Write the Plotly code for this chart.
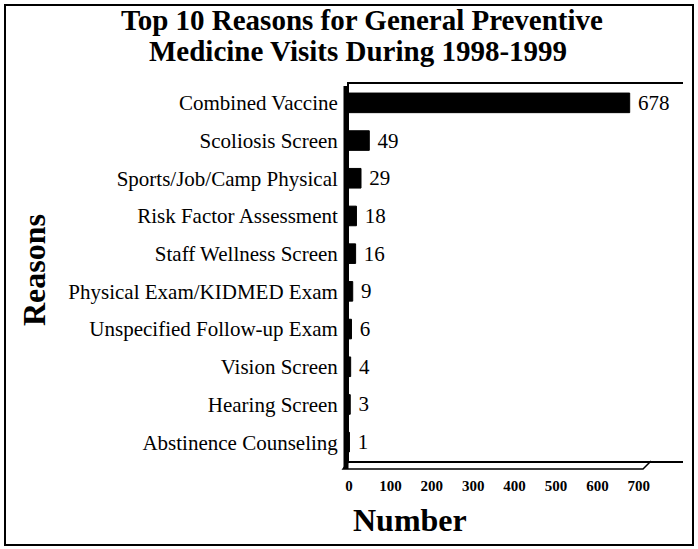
import plotly.graph_objects as go

reasons = ["Combined Vaccine", "Scoliosis Screen", "Sports/Job/Camp Physical",
           "Risk Factor Assessment", "Staff Wellness Screen", "Physical Exam/KIDMED Exam",
           "Unspecified Follow-up Exam", "Vision Screen", "Hearing Screen",
           "Abstinence Counseling"]
counts = [678, 49, 29, 18, 16, 9, 6, 4, 3, 1]
x_ticks = [0, 100, 200, 300, 400, 500, 600, 700]
title_lines = ["Top 10 Reasons for General Preventive", "Medicine Visits During 1998-1999"]

SERIF = "Liberation Serif, Times New Roman, serif"

fig = go.Figure(go.Bar(
    x=counts, y=reasons, orientation="h",
    marker=dict(color="black", line=dict(color="black", width=1)),
    width=0.52,
    text=["\u00a0" + str(c) for c in counts], textposition="outside",
    constraintext="none",
    textfont=dict(family=SERIF, size=21, color="black"),
    cliponaxis=False,
))

W, H = 698, 549
L, R, T, B = 349, 15, 84, 88
pw, ph = W - L - R, H - T - B


def px(x):
    return (x - L) / pw


def py(y):
    return (H - B - y) / ph


shapes = [
    dict(type="rect", xref="paper", yref="paper",
         x0=px(5), x1=px(693), y0=py(545), y1=py(5),
         line=dict(color="black", width=2)),
    # 3D floor under the plot
    dict(type="path", xref="paper", yref="paper",
         path=(f"M {px(349)},{py(461)} L {px(343)},{py(469)} "
               f"L {px(643)},{py(469)} L {px(651)},{py(461)}"),
         line=dict(color="black", width=1.5)),
    # 3D left wall
    dict(type="line", xref="paper", yref="paper",
         x0=px(346), x1=px(346), y0=py(469), y1=py(86),
         line=dict(color="black", width=5)),
]

annotations = [
    dict(text=f"<b>{title_lines[0]}</b>", xref="paper", yref="paper",
         x=px(362), y=py(20), xanchor="center", yanchor="middle", showarrow=False,
         font=dict(family=SERIF, size=29, color="black")),
    dict(text=f"<b>{title_lines[1]}</b>", xref="paper", yref="paper",
         x=px(358), y=py(51), xanchor="center", yanchor="middle", showarrow=False,
         font=dict(family=SERIF, size=29, color="black")),
    dict(text="<b>Number</b>", xref="paper", yref="paper",
         x=px(410), y=py(520), xanchor="center", yanchor="middle", showarrow=False,
         font=dict(family=SERIF, size=32, color="black")),
    dict(text="<b>Reasons</b>", xref="paper", yref="paper", textangle=-90,
         x=px(34), y=py(270), xanchor="center", yanchor="middle", showarrow=False,
         font=dict(family=SERIF, size=32, color="black")),
]

fig.update_layout(
    width=W, height=H,
    margin=dict(l=L, r=R, t=T, b=B),
    paper_bgcolor="white", plot_bgcolor="white",
    showlegend=False,
    xaxis=dict(range=[0, (W - L - R) / 0.414], tickvals=x_ticks, showgrid=False, zeroline=False,
               showline=True, linecolor="black", linewidth=2, mirror=True,
               ticks="", ticklabelstandoff=10,
               tickfont=dict(family=SERIF, size=15, color="black", weight="bold")),
    yaxis=dict(autorange="reversed", showgrid=False, zeroline=False,
               showline=True, linecolor="black", linewidth=2, mirror=False,
               ticks="", ticklabelstandoff=5,
               tickfont=dict(family=SERIF, size=21, color="black")),
    shapes=shapes,
    annotations=annotations,
)

fig.write_html("out.html", config={"displayModeBar": False},
               post_script="document.body.style.margin='0';document.body.style.overflow='hidden';")
